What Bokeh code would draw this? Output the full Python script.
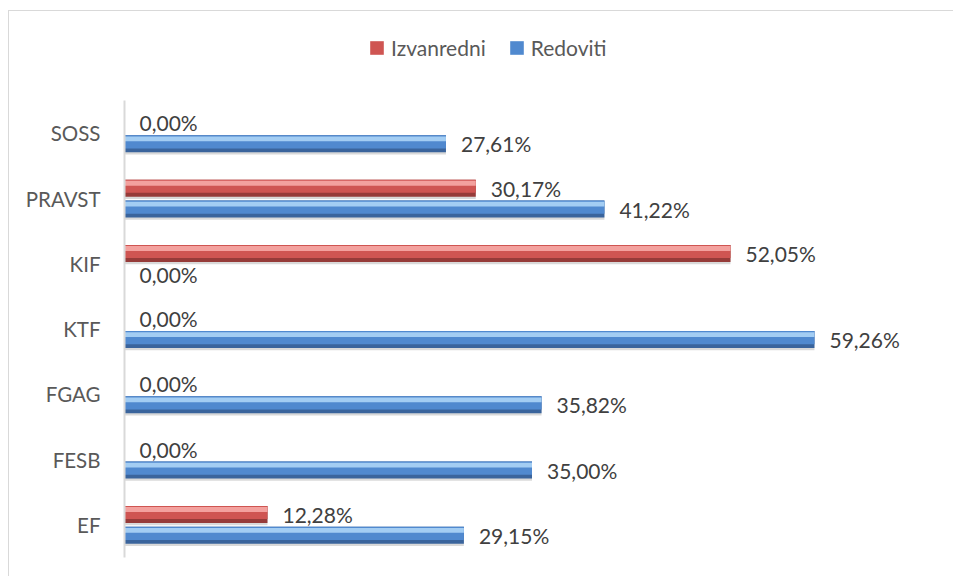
from bokeh.plotting import figure
from bokeh.models import ColumnDataSource, FactorRange, Range1d, Legend, LegendItem
from bokeh.transform import dodge
from bokeh.core.properties import value
from bokeh.embed import file_html
from bokeh.resources import INLINE

# ---- data ----
categories = ["EF", "FESB", "FGAG", "KTF", "KIF", "PRAVST", "SOSS"]
izvanredni = [12.28, 0.00, 0.00, 0.00, 52.05, 30.17, 0.00]
redoviti = [29.15, 35.00, 35.82, 59.26, 0.00, 41.22, 27.61]
series_names = ["Izvanredni", "Redoviti"]


def fmt(v):
    return f"{v:.2f}".replace(".", ",") + "%"


source = ColumnDataSource(dict(
    cat=categories,
    izv=izvanredni,
    red=redoviti,
    izv_lbl=[fmt(v) for v in izvanredni],
    red_lbl=[fmt(v) for v in redoviti],
))

FONT = "Lato"

# a blank factor on top leaves room for the legend inside the frame
p = figure(
    y_range=FactorRange(factors=categories + [" "]),
    x_range=Range1d(0, 70),
    width=945, height=566,
    output_backend="svg", toolbar_location=None,
    min_border_left=115, min_border_right=15,
    min_border_top=24, min_border_bottom=20,
)
p.styles = {"border-top": "1px solid #d9d9d9", "border-left": "1px solid #d9d9d9",
            "margin-left": "8px", "margin-top": "10px"}

p.xaxis.visible = False
p.xgrid.visible = False
p.ygrid.visible = False
p.outline_line_color = None

ax = p.yaxis[0]
ax.bounds = (0, len(categories))
ax.axis_line_color = "#d9d9d9"
ax.axis_line_width = 2
ax.major_tick_line_color = None
ax.minor_tick_line_color = None
ax.major_label_standoff = 18
ax.major_label_text_font = FONT
ax.major_label_text_font_size = "20.5px"
ax.major_label_text_color = "#595959"

H = 0.26
styles = {
    "izv": dict(off=0.16, dark="#963b39", mid="#cf5552", light="#f3a19e"),
    "red": dict(off=-0.16, dark="#3a649c", mid="#5089cf", light="#a3cdf3"),
}

legend_renderers = {}
for col, st in styles.items():
    c = st["off"]
    # shadow
    p.hbar(y=dodge("cat", c - 0.035, range=p.y_range), right=col, left=0, height=H,
           source=source, fill_color="#000000", fill_alpha=0.15, line_color=None)
    # dark base
    p.hbar(y=dodge("cat", c, range=p.y_range), right=col, left=0, height=H,
           source=source, fill_color=st["dark"], line_color=None)
    # mid body
    r_mid = p.hbar(y=dodge("cat", c + 0.03, range=p.y_range), right=col, left=0, height=H - 0.06,
                   source=source, fill_color=st["mid"], line_color=None)
    # highlight
    p.hbar(y=dodge("cat", c + 0.075, range=p.y_range), right=col, left=0, height=0.075,
           source=source, fill_color=st["light"], line_color=None)
    legend_renderers[col] = r_mid
    # labels
    p.text(x=col, y=dodge("cat", c, range=p.y_range), text=col + "_lbl", source=source,
           x_offset=15, text_baseline="middle", text_align="left",
           text_font=value(FONT), text_font_size="21px", text_color="#404040")

legend = Legend(
    items=[LegendItem(label=series_names[0], renderers=[legend_renderers["izv"]]),
           LegendItem(label=series_names[1], renderers=[legend_renderers["red"]])],
    orientation="horizontal", location=(244, 497),
    border_line_color=None, background_fill_alpha=0,
    padding=0, margin=0, spacing=22, label_standoff=6,
    glyph_width=17, glyph_height=17, label_height=24,
    label_text_font=FONT, label_text_font_size="21px", label_text_color="#595959",
)
p.add_layout(legend, "center")

open("out.html", "w").write(file_html(p, INLINE))
